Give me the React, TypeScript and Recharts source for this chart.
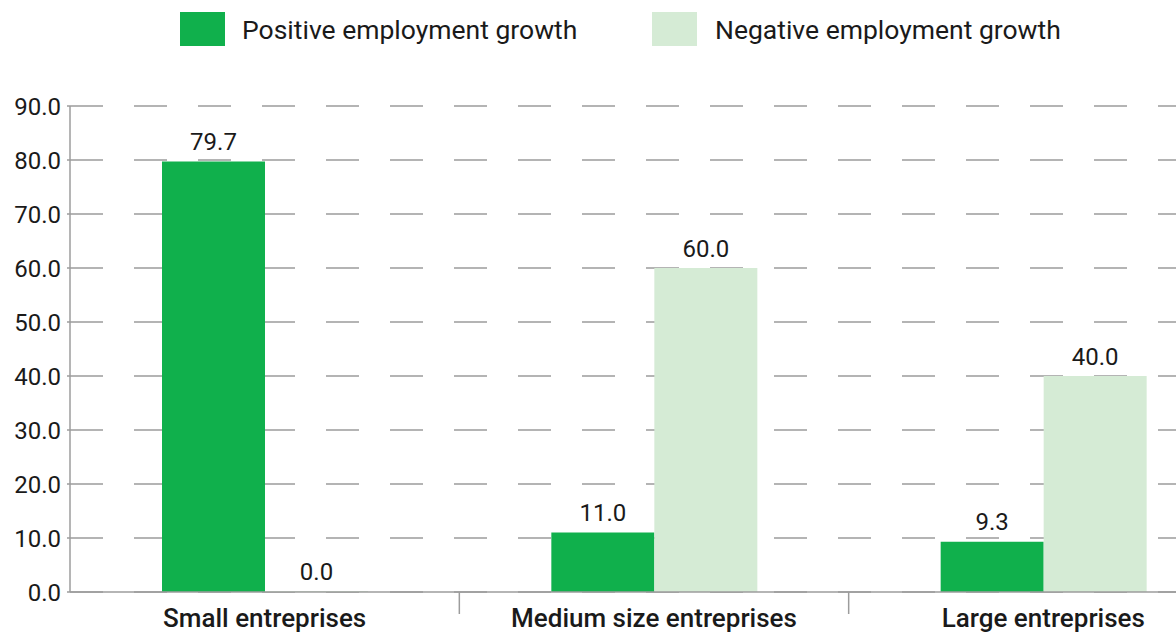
import React from "react";
import { BarChart, Bar, XAxis, YAxis, CartesianGrid, Legend, LabelList } from "recharts";

const categories = ["Small entreprises", "Medium size entreprises", "Large entreprises"];
const positiveGrowth = [79.7, 11.0, 9.3];
const negativeGrowth = [0.0, 60.0, 40.0];
const yTicks = [0, 10, 20, 30, 40, 50, 60, 70, 80, 90];
const seriesNames = ["Positive employment growth", "Negative employment growth"];

const GREEN = "#10B04C";
const LIGHT = "#D5EBD5";
const GRAY = "#9c9c9c";
const TEXT = "#1a1a1a";
const FONT = "Roboto, 'Noto Sans', sans-serif";

const CHART_W = 1230;
const CHART_H = 627;
const Y_W = 62;
const MARGIN = { top: 98, right: 0, left: 0, bottom: 0 };
const BAND = (CHART_W - Y_W - MARGIN.left - MARGIN.right) / categories.length;

const data = categories.map((c, i) => ({
  name: c,
  positive: positiveGrowth[i],
  negative: negativeGrowth[i],
}));

const CategoryTick = (props: any) => {
  const { x, y, payload, index } = props;
  return (
    <g>
      {index < categories.length - 1 && (
        <line x1={x + BAND / 2} x2={x + BAND / 2} y1={y} y2={y + 22} stroke={GRAY} strokeWidth={1.5} />
      )}
      <text x={x} y={y + 35} textAnchor="middle" fontSize={26} fontWeight={500} fill={TEXT} fontFamily={FONT}>
        {payload.value}
      </text>
    </g>
  );
};

const LegendContent = () => (
  <div style={{ position: "relative", width: CHART_W, height: 60, fontFamily: FONT, fontSize: 26.5, color: TEXT }}>
    <div style={{ position: "absolute", left: 172, top: 4, width: 45, height: 34, background: GREEN }} />
    <div style={{ position: "absolute", left: 234, top: 6, lineHeight: "32px", whiteSpace: "nowrap" }}>{seriesNames[0]}</div>
    <div style={{ position: "absolute", left: 644, top: 4, width: 45, height: 34, background: LIGHT }} />
    <div style={{ position: "absolute", left: 707, top: 6, lineHeight: "32px", whiteSpace: "nowrap" }}>{seriesNames[1]}</div>
  </div>
);

const fmt = (v: any) => Number(v).toFixed(1);
const labelStyle = { fontSize: 24, fill: TEXT, fontFamily: FONT };

export default function App() {
  return (
    <div style={{ position: "fixed", left: 8, top: 8, width: 1168, height: CHART_H, overflow: "hidden", background: "#fff" }}>
      <BarChart width={CHART_W} height={CHART_H} data={data} margin={MARGIN} barGap={0} barSize={103} style={{ fontFamily: FONT }}>
        <CartesianGrid vertical={false} stroke={GRAY} strokeWidth={1.5} strokeDasharray="33 31" />
        <Bar dataKey="positive" name={seriesNames[0]} fill={GREEN} isAnimationActive={false}>
          <LabelList dataKey="positive" position="top" offset={12} formatter={fmt} style={labelStyle} />
        </Bar>
        <Bar dataKey="negative" name={seriesNames[1]} fill={LIGHT} minPointSize={1} isAnimationActive={false}>
          <LabelList dataKey="negative" position="top" offset={11} formatter={fmt} style={labelStyle} />
        </Bar>
        <XAxis
          dataKey="name"
          height={43}
          axisLine={{ stroke: GRAY, strokeWidth: 1.5 }}
          tickLine={false}
          tickSize={0}
          tickMargin={0}
          interval={0}
          tick={<CategoryTick />}
        />
        <YAxis
          width={Y_W}
          domain={[0, 90]}
          ticks={yTicks}
          interval={0}
          tickFormatter={fmt}
          axisLine={{ stroke: GRAY, strokeWidth: 1.5 }}
          tickLine={{ stroke: GRAY, strokeWidth: 1.5 }}
          tickSize={3}
          tickMargin={6}
          tick={{ fontSize: 24, fill: TEXT, fontFamily: FONT }}
        />
        <Legend
          verticalAlign="middle"
          align="center"
          wrapperStyle={{ top: 0, left: 0, width: CHART_W, height: 60 }}
          content={<LegendContent />}
        />
      </BarChart>
    </div>
  );
}
